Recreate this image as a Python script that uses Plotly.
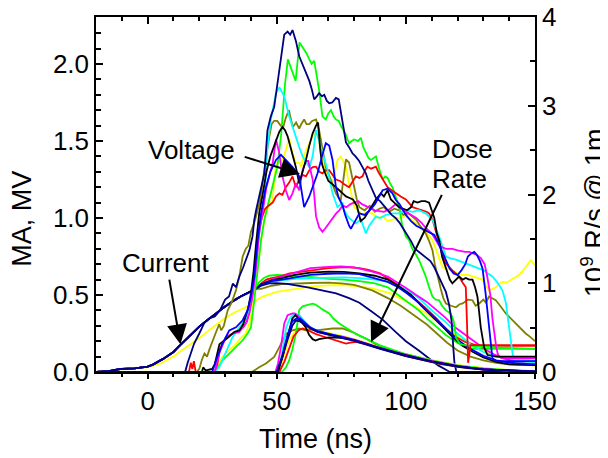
import plotly.graph_objects as go

# ---------------- colours of the nine shots ----------------
colors = {
    "yellow": "#FFFF00", "olive": "#808000", "green": "#00FF00", "red": "#FF0000",
    "cyan": "#00FFFF", "magenta": "#FF00FF", "black": "#000000", "blue": "#0000FF",
    "navy": "#000080",
}
order = ["yellow", "olive", "green", "red", "cyan", "magenta", "black", "blue", "navy"]

# ---------------- Voltage (MV, left axis) ----------------
v_navy_t = [-20, 10, 14.5, 15.5, 16.5, 18, 20, 22, 24, 26, 28, 30, 31.5, 33, 34.2, 35.5, 37, 38, 39.4, 40.6,
            41.3, 42, 43, 44, 45.2, 46.4, 47.7, 49, 50.3, 51.6, 52.9, 54.2, 55.2, 56.1, 57.4, 58.7, 60, 61.3,
            62.6, 63.5, 64.5, 65.5, 66.4, 67.5, 68.4, 69.4, 70.3, 71.5, 72.9, 74, 74.8, 75.8, 76.8, 78, 79.3,
            80.5, 81.9, 83.2, 84.5, 85.5, 86.5, 88.4, 90, 91.5, 93, 94.5, 96, 97.5, 99, 100.5, 102, 103.5, 105,
            106.5, 108, 109.5, 111, 112.5, 114, 115.5, 116.7, 117.7, 118.4, 118.8, 119.7, 121, 130, 150]
v_navy = [0, 0, 0.0, 0.06, 0.11, 0.185, 0.25, 0.32, 0.35, 0.36, 0.40, 0.47, 0.49, 0.575, 0.55, 0.62, 0.68,
          0.73, 0.79, 0.88, 0.99, 1.05, 1.12, 1.2, 1.29, 1.57, 1.66, 1.72, 1.875, 2.05, 2.19, 2.21, 2.19, 2.22,
          2.15, 2.05, 2.0, 1.95, 1.89, 1.84, 1.77, 1.79, 1.81, 1.79, 1.80, 1.76, 1.745, 1.75, 1.78, 1.77, 1.69,
          1.57, 1.49, 1.46, 1.42, 1.40, 1.37, 1.33, 1.29, 1.24, 1.20, 1.13, 1.11, 1.08, 1.05, 1.02, 1.0, 0.97,
          0.93, 0.89, 0.85, 0.80, 0.78, 0.76, 0.74, 0.72, 0.68, 0.63, 0.58, 0.52, 0.44, 0.33, 0.15, 0.06,
          -0.01, 0.0, 0.0, 0.0]

v_green_t = [-20, 26, 27, 29, 31.6, 34.2, 36.8, 38.7, 40, 41.3, 42.6, 43.9, 45.2, 46.5, 48, 49, 50.2, 51.7,
             53.2, 54.3, 55.8, 57.3, 58.8, 60.5, 61.5, 62.6, 63.5, 64.5, 65.5, 66.4, 67.7, 69, 70, 71, 72, 72.9,
             74, 74.8, 76.5, 78, 79, 80, 81.5, 82.6, 83.5, 84.5, 85.5, 86.5, 87.5, 88.4, 89.5, 91, 92, 92.9, 94,
             94.8, 96, 97.4, 98.5, 100, 101.2, 102.5, 104, 105.1, 106.5, 107.7, 109, 110.3, 111.5, 112.9, 114,
             115.5, 117.4, 118.5, 119.5, 121, 125, 135, 150]
v_green = [0, 0, 0.02, 0.076, 0.12, 0.163, 0.206, 0.25, 0.29, 0.466, 0.68, 0.857, 0.99, 1.08, 1.2, 1.25,
           1.33, 1.54, 1.87, 2.03, 1.96, 1.89, 2.14, 2.10, 2.07, 2.03, 2.00, 2.02, 1.93, 1.83, 1.66, 1.64, 1.68,
           1.70, 1.66, 1.64, 1.63, 1.60, 1.55, 1.485, 1.50, 1.51, 1.50, 1.52, 1.46, 1.42, 1.39, 1.377, 1.39,
           1.40, 1.33, 1.25, 1.27, 1.26, 1.22, 1.20, 1.14, 1.07, 0.96, 0.88, 0.857, 0.80, 0.76, 0.727, 0.67,
           0.62, 0.55, 0.49, 0.47, 0.466, 0.43, 0.40, 0.38, 0.33, 0.22, 0.18, 0.17, 0.16, 0.15]

v_olive_t = [-20, 19, 20, 21, 22, 23, 24, 25, 26.5, 27.7, 28.5, 29.5, 31, 32.5, 34.2, 35.5, 36.8, 38, 39, 40,
             41.5, 43.5, 45, 46.5, 48, 49, 50.2, 51.5, 52.5, 53.5, 54.7, 55.5, 56.2, 57.5, 58.7, 59.5, 60.6,
             61.5, 62.6, 63.7, 65.2, 66.4, 67.7, 69, 70, 71, 72, 72.9, 74, 74.8, 75.8, 76.8, 78, 79, 80, 81, 82,
             84, 86, 88, 89.7, 91.5, 93.5, 95.5, 97.4, 99, 101, 102.5, 103.9, 105.5, 107.7, 109, 110.3, 111.2,
             112.2, 113.5, 114.5, 115.5, 117.5, 119.4, 120.8, 122, 124, 125.8, 127, 128.4, 130, 131, 132.2,
             133.5, 134.8, 136.5, 138.7, 140.5, 142.6, 144.5, 146.4, 148, 150]
v_olive = [0, 0, 0.02, 0.08, 0.12, 0.10, 0.15, 0.2, 0.26, 0.31, 0.27, 0.30, 0.40, 0.45, 0.53, 0.62, 0.75,
           0.80, 0.82, 0.91, 0.98, 1.11, 1.3, 1.47, 1.61, 1.63, 1.63, 1.60, 1.59, 1.65, 1.70, 1.64, 1.59, 1.62,
           1.58, 1.61, 1.64, 1.61, 1.61, 1.63, 1.64, 1.57, 1.46, 1.33, 1.29, 1.25, 1.20, 1.16, 1.13, 1.12, 1.25,
           1.38, 1.36, 1.28, 1.20, 1.12, 1.07, 1.05, 1.08, 1.04, 1.06, 1.07, 1.04, 1.06, 1.05, 1.02, 1.03, 1.01,
           0.99, 0.95, 0.90, 0.85, 0.79, 0.70, 0.62, 0.54, 0.48, 0.445, 0.43, 0.42, 0.44, 0.445, 0.47, 0.466,
           0.43, 0.445, 0.47, 0.45, 0.49, 0.48, 0.466, 0.43, 0.38, 0.35, 0.315, 0.28, 0.25, 0.23, 0.2]

v_black_t = [-20, 21, 21.5, 22.5, 25, 26, 27.8, 29.5, 31.6, 33.5, 35.5, 37, 38, 39, 40, 41, 42, 43.2, 44.5, 46,
             47.5, 48.5, 49.7, 51, 52.2, 53.2, 54.2, 55.2, 56.1, 57.4, 58.7, 60, 61.3, 62.6, 63.9, 65.2, 66,
             66.8, 67.5, 68.5, 70, 71.5, 73, 74.2, 75.5, 76.8, 78.2, 79.5, 81, 82.5, 84, 85.5, 87, 88.4, 90.3,
             91.5, 92.9, 94.2, 95.5, 97.4, 99, 100.5, 102, 103, 104.5, 106, 107.5, 109, 110, 111, 112, 113, 114,
             115.5, 117, 118, 119.5, 120.6, 122, 123.2, 124.5, 125.8, 126.8, 127.7, 128.3, 129, 130.3, 131.6,
             135, 150]
v_black = [0, 0, 0.03, 0.01, 0.02, 0.05, 0.18, 0.2, 0.23, 0.26, 0.27, 0.31, 0.36, 0.42, 0.51, 0.65, 0.835,
           1.03, 1.15, 1.30, 1.40, 1.45, 1.51, 1.56, 1.59, 1.57, 1.53, 1.47, 1.42, 1.33, 1.225, 1.30, 1.377,
           1.47, 1.55, 1.60, 1.62, 1.45, 1.35, 1.30, 1.24, 1.22, 1.20, 1.18, 1.16, 1.14, 1.13, 1.12, 1.08, 0.98,
           1.00, 1.04, 1.08, 1.12, 1.16, 1.14, 1.18, 1.12, 1.10, 1.07, 1.06, 1.05, 1.07, 1.11, 1.10, 1.11, 1.11,
           1.10, 1.05, 1.0, 0.9, 0.85, 0.75, 0.68, 0.6, 0.575, 0.6, 0.62, 0.6, 0.61, 0.6, 0.60, 0.55, 0.49,
           0.40, 0.29, 0.16, 0.11, 0.10, 0.10]

v_blue_t = [-20, 25, 26.5, 29, 31.6, 34.2, 36.8, 38.7, 40, 41.3, 42.6, 43.9, 45.5, 47.5, 49.7, 51.6, 53.5,
            56.1, 58.7, 60.6, 62.6, 64.5, 65.8, 67.5, 69, 70.3, 71.6, 72.9, 74, 75.5, 76.5, 78, 78.7, 80, 82,
            84, 86, 88, 90, 91, 92.9, 94.8, 96, 97.5, 100, 102, 104, 106.5, 109, 111, 112.5, 114, 115.5, 117,
            118.5, 120, 121.5, 123, 124, 125.3, 126.5, 127.5, 128.7, 129.7, 130.8, 132, 132.8, 133.5, 135, 150]
v_blue = [0, 0, 0.076, 0.185, 0.27, 0.29, 0.336, 0.40, 0.49, 0.62, 0.857, 1.03, 1.18, 1.30, 1.377, 1.41,
          1.377, 1.33, 1.27, 1.07, 1.14, 1.225, 1.29, 1.40, 1.485, 1.47, 1.377, 1.20, 1.13, 1.08, 1.02, 0.95,
          0.93, 0.97, 1.03, 1.02, 1.05, 1.09, 1.15, 1.18, 1.19, 1.16, 1.12, 1.09, 1.02, 0.98, 0.95, 0.93, 0.91,
          0.89, 0.84, 0.78, 0.72, 0.67, 0.64, 0.63, 0.66, 0.70, 0.75, 0.77, 0.78, 0.76, 0.72, 0.67, 0.52, 0.35,
          0.2, 0.09, 0.07, 0.07]

v_cyan_t = [-20, 26, 27.7, 30.3, 32.9, 35.5, 38, 40, 41.3, 42.6, 43.9, 45.2, 46.4, 47.7, 49.7, 51, 52.9, 54.8,
            56.8, 58.7, 60, 62.6, 63.9, 65.2, 66.4, 67.7, 69.7, 71.6, 73.5, 75.5, 76, 78, 80.6, 82.6, 84.5, 85.8,
            87, 88.4, 90, 92.3, 95, 97.4, 100, 102.6, 105, 107.7, 110.3, 112.9, 115.5, 117, 119.4, 121, 123.2,
            125, 127, 128.5, 130.2, 131.8, 133.5, 135.5, 137.4, 138.7, 140, 141.3, 142, 150]
v_cyan = [0, 0, 0.03, 0.13, 0.228, 0.29, 0.34, 0.44, 0.575, 0.81, 1.0, 1.117, 1.46, 1.64, 1.81, 1.85, 1.79,
          1.66, 1.55, 1.46, 1.40, 1.33, 1.40, 1.57, 1.5, 1.42, 1.31, 1.16, 1.07, 1.10, 1.05, 1.00, 0.965, 0.99,
          0.90, 0.95, 0.98, 1.01, 1.0, 1.02, 1.03, 1.03, 1.05, 1.04, 1.05, 1.03, 0.987, 0.88, 0.75, 0.74, 0.73,
          0.72, 0.705, 0.69, 0.68, 0.67, 0.66, 0.64, 0.62, 0.58, 0.53, 0.45, 0.29, 0.12, 0.07, 0.065]

v_magenta_t = [-20, 26, 27.7, 30.3, 32.9, 35.5, 38, 39.4, 40.6, 42, 43.2, 44.5, 46, 47.2, 48.4, 49.7, 51, 52.2,
               53.5, 54.8, 56.1, 57.4, 58.7, 60, 61.3, 62.2, 63.3, 63.9, 64.5, 65.2, 66.4, 67.7, 68.7, 69.7,
               71.6, 73, 74.2, 75.5, 77, 78.5, 80, 81.5, 83, 85.5, 88, 91.5, 94, 96, 98, 100, 102, 104, 106,
               108, 110, 112.9, 115.5, 118, 120, 123, 124.5, 126, 127.5, 129, 130.5, 131.5, 132.7, 133.5, 134.2,
               135, 135.7, 137, 150]
v_magenta = [0, 0, 0.12, 0.228, 0.25, 0.26, 0.315, 0.38, 0.49, 0.68, 0.90, 1.05, 1.2, 1.28, 1.355, 1.51, 1.42,
             1.27, 1.18, 1.117, 1.16, 1.225, 1.18, 1.31, 1.37, 1.37, 1.30, 1.25, 1.15, 1.01, 0.94, 0.91, 0.93,
             0.954, 1.0, 1.03, 1.05, 1.08, 1.07, 1.09, 1.10, 1.11, 1.09, 1.07, 1.05, 1.04, 1.06, 1.09, 1.06, 1.04,
             1.02, 1.0, 0.97, 0.93, 0.90, 0.82, 0.80, 0.80, 0.79, 0.78, 0.78, 0.77, 0.76, 0.74, 0.70, 0.62, 0.50,
             0.35, 0.24, 0.16, 0.11, 0.09, 0.09]

v_red_t = [-20, 16, 16.7, 17.3, 17.9, 18.6, 26, 27, 28, 29.5, 31, 33, 35, 37, 38.5, 40, 41, 42, 43, 44.2, 45.5,
           46.8, 48.4, 49.7, 51, 52.2, 53.5, 54.8, 56.1, 57.4, 58.7, 60, 61.3, 62.6, 63.9, 65.2, 66.5, 67.7, 69,
           70.3, 71.5, 72.9, 74.5, 76, 78, 79.3, 80.6, 82, 83.2, 84.2, 85.1, 86.5, 88.4, 89.3, 90.3, 91.5, 92.9,
           94.5, 96.1, 98, 100, 101.5, 102.6, 104.5, 106.4, 108, 109, 110.3, 111.5, 112.9, 114, 115.5, 116.8,
           118, 119.3, 120.6, 122, 123.2, 123.7, 124.1, 124.6, 125, 150]
v_red = [0, 0, 0.06, 0.02, 0.07, 0.0, 0, 0.05, 0.15, 0.2, 0.23, 0.25, 0.27, 0.29, 0.33, 0.45, 0.6, 0.78, 0.92,
         1.00, 1.06, 1.08, 1.10, 1.14, 1.16, 1.15, 1.20, 1.23, 1.27, 1.20, 1.25, 1.28, 1.27, 1.31, 1.33, 1.333,
         1.30, 1.29, 1.31, 1.31, 1.28, 1.25, 1.24, 1.22, 1.20, 1.24, 1.27, 1.26, 1.27, 1.31, 1.333, 1.32, 1.333,
         1.30, 1.27, 1.24, 1.20, 1.18, 1.16, 1.14, 1.12, 1.09, 1.07, 1.06, 1.05, 1.04, 1.03, 0.99, 0.92, 0.835,
         0.77, 0.705, 0.68, 0.66, 0.64, 0.62, 0.58, 0.55, 0.3, 0.06, 0.12, 0.175, 0.175]

v_yellow_t = [-20, 26, 27, 29, 31.5, 34.2, 36, 38, 39.5, 40.6, 42, 43.2, 44.5, 45.8, 47, 48.4, 49.7, 51, 52.2,
              53.5, 54.8, 56.1, 57.4, 58.7, 59.4, 60.5, 61.9, 63.9, 65.8, 66.5, 67.7, 69.7, 71.6, 72.6, 73.5,
              74.8, 76.8, 78, 79, 80, 81.5, 83, 85, 87, 89, 91, 93, 94.8, 97, 100, 102, 103.9, 106, 108, 110.3,
              112, 114.2, 116, 118, 120, 122, 124, 125.8, 127.5, 129.6, 131, 132.2, 133.5, 134.8, 136, 137.4,
              139, 140, 142, 143.8, 145, 146.4, 147.5, 148.4, 149.2, 150]
v_yellow = [0, 0, 0.03, 0.1, 0.14, 0.18, 0.22, 0.25, 0.32, 0.42, 0.6, 0.77, 0.92, 1.03, 1.08, 1.117, 1.355,
            1.36, 1.377, 1.44, 1.518, 1.42, 1.355, 1.36, 1.333, 1.40, 1.46, 1.53, 1.57, 1.48, 1.377, 1.27, 1.225,
            1.30, 1.377, 1.40, 1.33, 1.225, 1.15, 1.07, 1.05, 1.02, 1.04, 1.03, 1.00, 1.01, 0.98, 0.99, 1.0,
            1.01, 0.99, 0.965, 0.94, 0.90, 0.857, 0.78, 0.68, 0.67, 0.66, 0.64, 0.63, 0.63, 0.62, 0.61, 0.60,
            0.56, 0.53, 0.54, 0.55, 0.57, 0.585, 0.58, 0.59, 0.61, 0.63, 0.65, 0.68, 0.70, 0.726, 0.71, 0.69]

# ---------------- Current (MA, left axis) ----------------
i_rise_t = [-20, -15, -12, -10, -5, -2, 0, 2, 4, 6, 8, 10, 12, 13.5, 16, 18, 20, 22, 24, 26, 28, 30, 32, 34,
            36, 38, 40, 42]
i_rise = [0.0, 0.005, 0.015, 0.02, 0.024, 0.028, 0.035, 0.048, 0.065, 0.085, 0.107, 0.13, 0.165, 0.19, 0.235,
          0.265, 0.295, 0.322, 0.35, 0.375, 0.4, 0.425, 0.45, 0.47, 0.49, 0.507, 0.523, 0.54]

i_red_t = [44, 46, 48, 51, 55, 60, 65, 70, 75, 78, 82, 85.5, 90, 93, 96, 100.5, 104, 108, 112, 115.5, 119,
           123, 127, 130, 150]
i_red = [0.575, 0.6, 0.61, 0.62, 0.64, 0.652, 0.665, 0.674, 0.68, 0.68, 0.675, 0.663, 0.64, 0.61, 0.575, 0.52,
         0.47, 0.41, 0.345, 0.28, 0.23, 0.195, 0.175, 0.17, 0.17]
i_magenta_t = [44, 48, 52, 57, 63, 70, 75, 80, 87, 93, 97, 100.5, 104, 108, 112, 115.5, 119, 123, 127, 130.5,
               134, 138, 142, 146, 150]
i_magenta = [0.57, 0.6, 0.62, 0.645, 0.674, 0.683, 0.685, 0.68, 0.652, 0.62, 0.58, 0.54, 0.50, 0.457, 0.40,
             0.35, 0.29, 0.24, 0.19, 0.15, 0.115, 0.087, 0.07, 0.058, 0.054]
i_black_t = [44, 48, 52, 57, 63, 70, 76, 82, 88, 93, 97, 102, 106, 111, 114.5, 118.5, 122, 126, 130, 135, 140,
             150]
i_black = [0.57, 0.595, 0.61, 0.63, 0.645, 0.652, 0.65, 0.64, 0.625, 0.60, 0.56, 0.50, 0.43, 0.35, 0.29, 0.22,
           0.17, 0.13, 0.095, 0.065, 0.05, 0.045]
i_blue_t = [44, 48, 52, 57, 63, 70, 76, 82, 88, 93, 97, 100.5, 105, 110, 115, 120, 125, 130, 135, 140, 150]
i_blue = [0.565, 0.59, 0.6, 0.615, 0.63, 0.638, 0.64, 0.635, 0.61, 0.585, 0.55, 0.51, 0.45, 0.37, 0.29, 0.21,
          0.15, 0.105, 0.075, 0.06, 0.05]
i_cyan_t = [44, 48, 52, 57, 63, 70, 76, 82, 88, 93, 97, 100.5, 105, 110, 115, 120, 125, 130, 135, 140, 145, 150]
i_cyan = [0.565, 0.585, 0.595, 0.605, 0.61, 0.615, 0.615, 0.61, 0.6, 0.585, 0.56, 0.53, 0.48, 0.40, 0.33, 0.25,
          0.18, 0.13, 0.1, 0.085, 0.08, 0.075]
i_green_t = [43, 45, 47, 50, 55, 60, 65, 70, 76, 82, 88, 93, 97, 100.5, 105, 108, 112, 115.5, 119, 123, 127, 150]
i_green = [0.58, 0.61, 0.625, 0.63, 0.625, 0.62, 0.615, 0.605, 0.60, 0.59, 0.575, 0.55, 0.5, 0.46, 0.40, 0.35,
           0.29, 0.24, 0.2, 0.16, 0.15, 0.15]
i_olive_t = [44, 48, 52, 57, 63, 70, 75, 80, 87, 93, 98, 103, 108, 112, 116, 120, 125, 130, 135, 140, 150]
i_olive = [0.54, 0.56, 0.57, 0.575, 0.578, 0.58, 0.575, 0.565, 0.53, 0.48, 0.43, 0.37, 0.31, 0.25, 0.19, 0.14,
           0.1, 0.076, 0.06, 0.05, 0.045]
i_navy_t = [44, 47, 50, 54, 57, 62, 67.5, 73, 78, 82, 87, 91, 96, 100, 105, 109, 112.5, 115, 117, 150]
i_navy = [0.56, 0.575, 0.577, 0.572, 0.565, 0.55, 0.53, 0.51, 0.48, 0.45, 0.39, 0.34, 0.26, 0.2, 0.14, 0.09,
          0.043, 0.02, 0.0, 0.0]
i_yellow_t = [-20, -15, -10, -2, 0, 5, 10, 12.3, 15, 18.7, 20, 25.2, 30, 34, 38, 41, 44.5, 50, 57, 63, 70, 75,
              81, 87, 94, 100, 108, 115, 122, 130, 136, 142, 146, 150]
i_yellow = [0.0, 0.005, 0.018, 0.025, 0.03, 0.055, 0.1, 0.13, 0.16, 0.2, 0.22, 0.29, 0.35, 0.39, 0.42, 0.455,
            0.49, 0.52, 0.54, 0.554, 0.562, 0.565, 0.558, 0.543, 0.51, 0.46, 0.38, 0.29, 0.21, 0.14, 0.1, 0.065,
            0.05, 0.04]

# ---------------- Dose rate (1e9 R/s @ 1 m, right axis) ----------------
d_magenta_t = [-20, 49.5, 50.5, 51.6, 52.9, 54.2, 56.1, 57, 58, 60, 62.6, 65, 70, 75, 80, 85, 90, 95, 100, 105,
               110, 115, 120, 125, 130, 135, 140, 150]
d_magenta = [0, 0, 0.1, 0.28, 0.546, 0.64, 0.66, 0.66, 0.64, 0.58, 0.51, 0.46, 0.42, 0.40, 0.365, 0.32, 0.27,
             0.23, 0.19, 0.155, 0.125, 0.095, 0.07, 0.05, 0.035, 0.025, 0.017, 0.008]
d_cyan_t = [-20, 50.5, 52, 53.6, 55, 56.5, 58.7, 60, 62, 65, 70, 75, 80, 90, 100, 110, 120, 130, 140, 150]
d_cyan = [0, 0, 0.2, 0.5, 0.6, 0.65, 0.64, 0.6, 0.53, 0.47, 0.43, 0.40, 0.36, 0.27, 0.19, 0.12, 0.068, 0.034,
          0.016, 0.007]
d_black_t = [-20, 50.5, 52.5, 54.5, 56, 57.2, 58.5, 60, 61.3, 62.5, 63.9, 65, 66.4, 70.3, 75, 80, 90, 100, 110,
             120, 130, 140, 150]
d_black = [0, 0, 0.2, 0.45, 0.6, 0.64, 0.60, 0.55, 0.5, 0.42, 0.37, 0.355, 0.37, 0.39, 0.385, 0.36, 0.27, 0.19,
           0.12, 0.065, 0.03, 0.015, 0.006]
d_navy_t = [-20, 50, 52, 54, 56, 57.4, 59, 60, 63, 66, 70, 75, 80, 90, 100, 110, 120, 130, 140, 150]
d_navy = [0, 0, 0.15, 0.35, 0.52, 0.58, 0.57, 0.55, 0.49, 0.45, 0.42, 0.39, 0.35, 0.26, 0.18, 0.115, 0.06,
          0.028, 0.013, 0.005]
d_blue_t = [-20, 50, 52, 54, 56, 57.5, 59, 61, 63, 66, 70, 75, 80, 90, 100, 110, 120, 130, 140, 150]
d_blue = [0, 0, 0.17, 0.4, 0.57, 0.60, 0.6, 0.55, 0.5, 0.46, 0.43, 0.40, 0.36, 0.265, 0.185, 0.118, 0.063,
          0.03, 0.014, 0.006]
d_yellow_t = [-20, 51, 53, 54.8, 57.4, 60, 63, 66, 70, 75, 80, 90, 100, 110, 120, 130, 140, 150]
d_yellow = [0, 0, 0.2, 0.36, 0.47, 0.49, 0.48, 0.46, 0.44, 0.41, 0.37, 0.28, 0.2, 0.135, 0.08, 0.045, 0.022,
            0.01]
d_red_t = [-20, 51, 53, 54.8, 56.5, 58.5, 60, 62, 65, 68, 71, 72.9, 76.8, 78.5, 80.6, 85, 90, 95, 100, 110, 120,
           130, 140, 150]
d_red = [0, 0, 0.12, 0.26, 0.4, 0.47, 0.49, 0.47, 0.43, 0.40, 0.37, 0.358, 0.32, 0.33, 0.34, 0.31, 0.265, 0.22,
         0.18, 0.11, 0.06, 0.028, 0.013, 0.005]
d_green_t = [-20, 52, 53.5, 54.8, 56, 57.4, 58.7, 60, 61.3, 63.9, 65, 66.4, 68, 70.3, 72, 74.2, 76, 78, 80, 82,
             85, 90, 100, 110, 120, 130, 140, 150]
d_green = [0, 0, 0.05, 0.13, 0.25, 0.43, 0.70, 0.74, 0.75, 0.77, 0.76, 0.73, 0.7, 0.66, 0.6, 0.546, 0.51, 0.47,
           0.44, 0.41, 0.37, 0.3, 0.2, 0.13, 0.075, 0.04, 0.02, 0.01]
d_olive_t = [-20, 40, 41, 43, 45.8, 47.5, 49, 51, 52.3, 53.6, 56.1, 58.7, 61.3, 63, 65.2, 68, 71.6, 75.5, 79.3,
             82, 84.5, 88, 91, 94, 97.4, 100, 103.9, 107, 110.3, 113, 116.7, 120, 123.2, 130, 136, 143, 150]
d_olive = [0, 0, 0.01, 0.05, 0.095, 0.13, 0.17, 0.28, 0.36, 0.43, 0.47, 0.49, 0.47, 0.48, 0.47, 0.48, 0.49,
           0.49, 0.45, 0.41, 0.377, 0.32, 0.28, 0.25, 0.226, 0.2, 0.17, 0.14, 0.113, 0.09, 0.075, 0.06, 0.045,
           0.03, 0.02, 0.01, 0.0]

voltage = {"navy": (v_navy_t, v_navy), "green": (v_green_t, v_green), "olive": (v_olive_t, v_olive),
           "black": (v_black_t, v_black), "blue": (v_blue_t, v_blue), "cyan": (v_cyan_t, v_cyan),
           "magenta": (v_magenta_t, v_magenta), "red": (v_red_t, v_red), "yellow": (v_yellow_t, v_yellow)}
current = {"red": (i_rise_t + i_red_t, i_rise + i_red),
           "magenta": (i_rise_t + i_magenta_t, i_rise + i_magenta),
           "black": (i_rise_t + i_black_t, i_rise + i_black),
           "blue": (i_rise_t + i_blue_t, i_rise + i_blue),
           "cyan": (i_rise_t + i_cyan_t, i_rise + i_cyan),
           "green": (i_rise_t + i_green_t, i_rise + i_green),
           "olive": (i_rise_t + i_olive_t, i_rise + i_olive),
           "navy": (i_rise_t + i_navy_t, i_rise + i_navy),
           "yellow": (i_yellow_t, i_yellow)}
dose = {"magenta": (d_magenta_t, d_magenta), "cyan": (d_cyan_t, d_cyan), "black": (d_black_t, d_black),
        "navy": (d_navy_t, d_navy), "blue": (d_blue_t, d_blue), "yellow": (d_yellow_t, d_yellow),
        "red": (d_red_t, d_red), "green": (d_green_t, d_green), "olive": (d_olive_t, d_olive)}

FONT = "Liberation Sans, Arial, sans-serif"
LW = 1.8

fig = go.Figure()
for name in order:
    t, y = dose[name]
    fig.add_trace(go.Scatter(x=t, y=y, mode="lines", yaxis="y2",
                             line=dict(color=colors[name], width=LW), hoverinfo="skip"))
for name in order:
    t, y = current[name]
    fig.add_trace(go.Scatter(x=t, y=y, mode="lines",
                             line=dict(color=colors[name], width=LW), hoverinfo="skip"))
for name in order:
    t, y = voltage[name]
    fig.add_trace(go.Scatter(x=t, y=y, mode="lines",
                             line=dict(color=colors[name], width=LW), hoverinfo="skip"))
# invisible trace to anchor the top (mirror) axis
fig.add_trace(go.Scatter(x=[-20], y=[0], xaxis="x2", yaxis="y", mode="markers",
                         marker=dict(opacity=0), hoverinfo="skip"))

x_major = [0, 50, 100, 150]
x_minor = [-10, 10, 20, 30, 40, 60, 70, 80, 90, 110, 120, 130, 140]
yl_major = [0, 0.5, 1.0, 1.5, 2.0]
yl_minor = [0.1, 0.2, 0.3, 0.4, 0.6, 0.7, 0.8, 0.9, 1.1, 1.2, 1.3, 1.4, 1.6, 1.7, 1.8, 1.9, 2.1, 2.2]
yr_major = [0, 1, 2, 3, 4]
yr_minor = [0.5, 1.5, 2.5, 3.5]

axis_common = dict(showline=True, linecolor="black", linewidth=1.5, showgrid=False, zeroline=False,
                   automargin=False, tickcolor="black", tickwidth=1.5, ticklabeloverflow="allow",
                   tickfont=dict(family=FONT, size=26, color="black"))

# the page body keeps an 8 px default margin, so the figure is 8 px smaller than the window
fig.update_layout(
    width=600, height=450, template="none",
    margin=dict(l=88, r=73, t=9, b=86, pad=0, autoexpand=False),
    paper_bgcolor="white", plot_bgcolor="white", showlegend=False,
    font=dict(family=FONT, color="black", size=26),
    xaxis=dict(range=[-20, 150], tickmode="array", tickvals=x_major, ticks="outside", ticklen=5,
               minor=dict(tickvals=x_minor, ticks="outside", ticklen=3, tickcolor="black", tickwidth=1.5),
               **axis_common),
    xaxis2=dict(range=[-20, 150], overlaying="x", side="top", anchor="y", tickmode="array",
                tickvals=x_major, ticks="inside", ticklen=7, showticklabels=False,
                minor=dict(tickvals=x_minor, ticks="inside", ticklen=4, tickcolor="black", tickwidth=1.5),
                **axis_common),
    yaxis=dict(range=[0, 2.305], tickmode="array", tickvals=yl_major, tickformat=".1f", ticks="inside",
               ticklen=7, minor=dict(tickvals=yl_minor, ticks="inside", ticklen=5, tickcolor="black",
                                      tickwidth=1.5),
               **axis_common),
    yaxis2=dict(range=[0, 4], overlaying="y", side="right", anchor="x", tickmode="array",
                tickvals=yr_major, ticks="inside", ticklen=7,
                minor=dict(tickvals=yr_minor, ticks="inside", ticklen=5, tickcolor="black", tickwidth=1.5),
                **axis_common),
)

ann_font = dict(family=FONT, size=26, color="black")
title_font = dict(family=FONT, size=27, color="black")
annotations = [
    dict(text="Time (ns)", xref="paper", yref="paper", x=0.501, y=-0.19, xanchor="center", yanchor="middle",
         showarrow=False, font=title_font),
    dict(text="MA, MV", xref="paper", yref="paper", x=-0.169, y=0.431, xanchor="center", yanchor="middle",
         textangle=-90, showarrow=False, font=title_font),
    dict(text="10<sup>9</sup> R/s @ 1m", xref="paper", yref="paper", x=1.132, y=0.448, xanchor="center",
         yanchor="middle", textangle=-90, showarrow=False, font=title_font),
    dict(text="Voltage", xref="x", yref="y", x=17.1, y=1.44, xanchor="center", yanchor="middle",
         showarrow=False, font=ann_font),
    dict(text="Current", xref="x", yref="y", x=7.0, y=0.71, xanchor="center", yanchor="middle",
         showarrow=False, font=ann_font),
    dict(text="Dose", xref="x", yref="y", x=109.3, y=1.45, xanchor="left", yanchor="middle",
         showarrow=False, font=ann_font),
    dict(text="Rate", xref="x", yref="y", x=109.3, y=1.255, xanchor="left", yanchor="middle",
         showarrow=False, font=ann_font),
    # arrows
    dict(text="", xref="x", yref="y", axref="x", ayref="y", x=59.0, y=1.285, ax=37.0, ay=1.40,
         showarrow=True, arrowhead=2, arrowsize=2, arrowwidth=2, arrowcolor="black"),
    dict(text="", xref="x", yref="y", axref="x", ayref="y", x=12.7, y=0.18, ax=8.3, ay=0.61,
         showarrow=True, arrowhead=2, arrowsize=2, arrowwidth=2, arrowcolor="black"),
    dict(text="", xref="x", yref="y", axref="x", ayref="y", x=86.5, y=0.195, ax=114.2, ay=1.16,
         showarrow=True, arrowhead=2, arrowsize=2, arrowwidth=2, arrowcolor="black"),
]
fig.update_layout(annotations=annotations)

fig.write_html("out.html")
